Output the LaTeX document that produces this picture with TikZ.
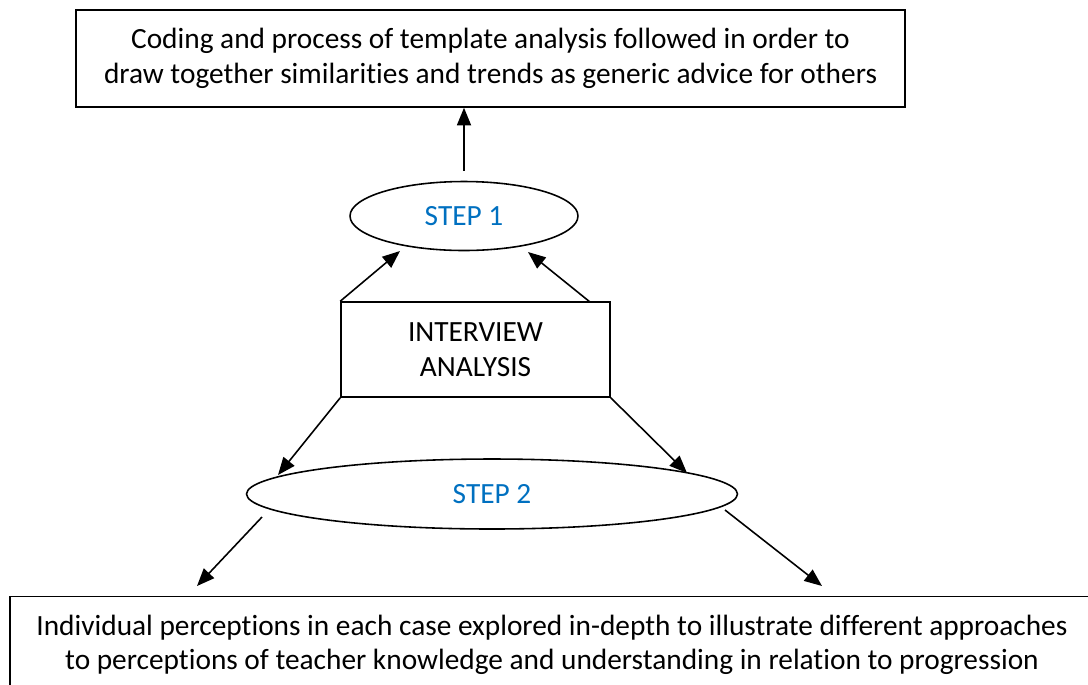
\documentclass[tikz,border=0pt]{standalone}
\usepackage{fontspec}
\setmainfont{Carlito}[Ligatures=NoCommon]
\usetikzlibrary{calc,shapes.geometric,arrows.meta}
\definecolor{stepblue}{RGB}{0,112,192}

\begin{document}
\begin{tikzpicture}[x=0.02cm, y=-0.02cm, font=\fontsize{16.7}{19.6}\selectfont, line width=0.9pt,
            box/.style={rectangle, draw, align=center, inner sep=0pt},
            oval/.style={ellipse, draw, text=stepblue, inner sep=0pt},
            >={Triangle[length=10pt,width=8pt]}]
        \useasboundingbox (0,0) rectangle (1088,684);
        \clip (0,0) rectangle (1088,684);

          \node[box, minimum width=16.58cm, minimum height=1.94cm] (code) at (490.5,58.5)
            {Coding and process of template analysis followed in order to\\draw together similarities and trends as generic advice for others};
          \node[oval, minimum width=4.56cm, minimum height=1.38cm] (step1) at (464,216) {STEP 1};
          \node[box, minimum width=5.38cm, minimum height=1.9cm] (intv) at (475.5,349.5) {INTERVIEW\\ANALYSIS};
          \node[oval, minimum width=9.82cm, minimum height=1.4cm] (step2) at (492,494) {STEP 2};
          \node[box, minimum width=21.68cm, minimum height=1.94cm] (perc) at (552,645)
            {Individual perceptions in each case explored in-depth to illustrate different approaches\\to perceptions of teacher knowledge and understanding in relation to progression};

          % free ends of the connectors
          \coordinate (up1) at (400,251);
          \coordinate (up2) at (528,252);
          \coordinate (ir) at (590,302);
          \coordinate (dn1) at (278,475);
          \coordinate (dn2) at (687,473);
          \coordinate (s2l) at (262,517);
          \coordinate (s2r) at (725,510);
          \coordinate (pl) at (197,586);
          \coordinate (pr) at (822,586);

          \draw[->] ($(step1.north)+(0,-10)$) -- (step1.north |- code.south);
          \draw[->] (intv.north west) -- (up1);
          \draw[->] (ir) -- (up2);
          \draw[->] (intv.south west) -- (dn1);
          \draw[->] (intv.south east) -- (dn2);
          \draw[->] (s2l) -- (pl);
          \draw[->] (s2r) -- (pr);
        \end{tikzpicture}
\end{document}
